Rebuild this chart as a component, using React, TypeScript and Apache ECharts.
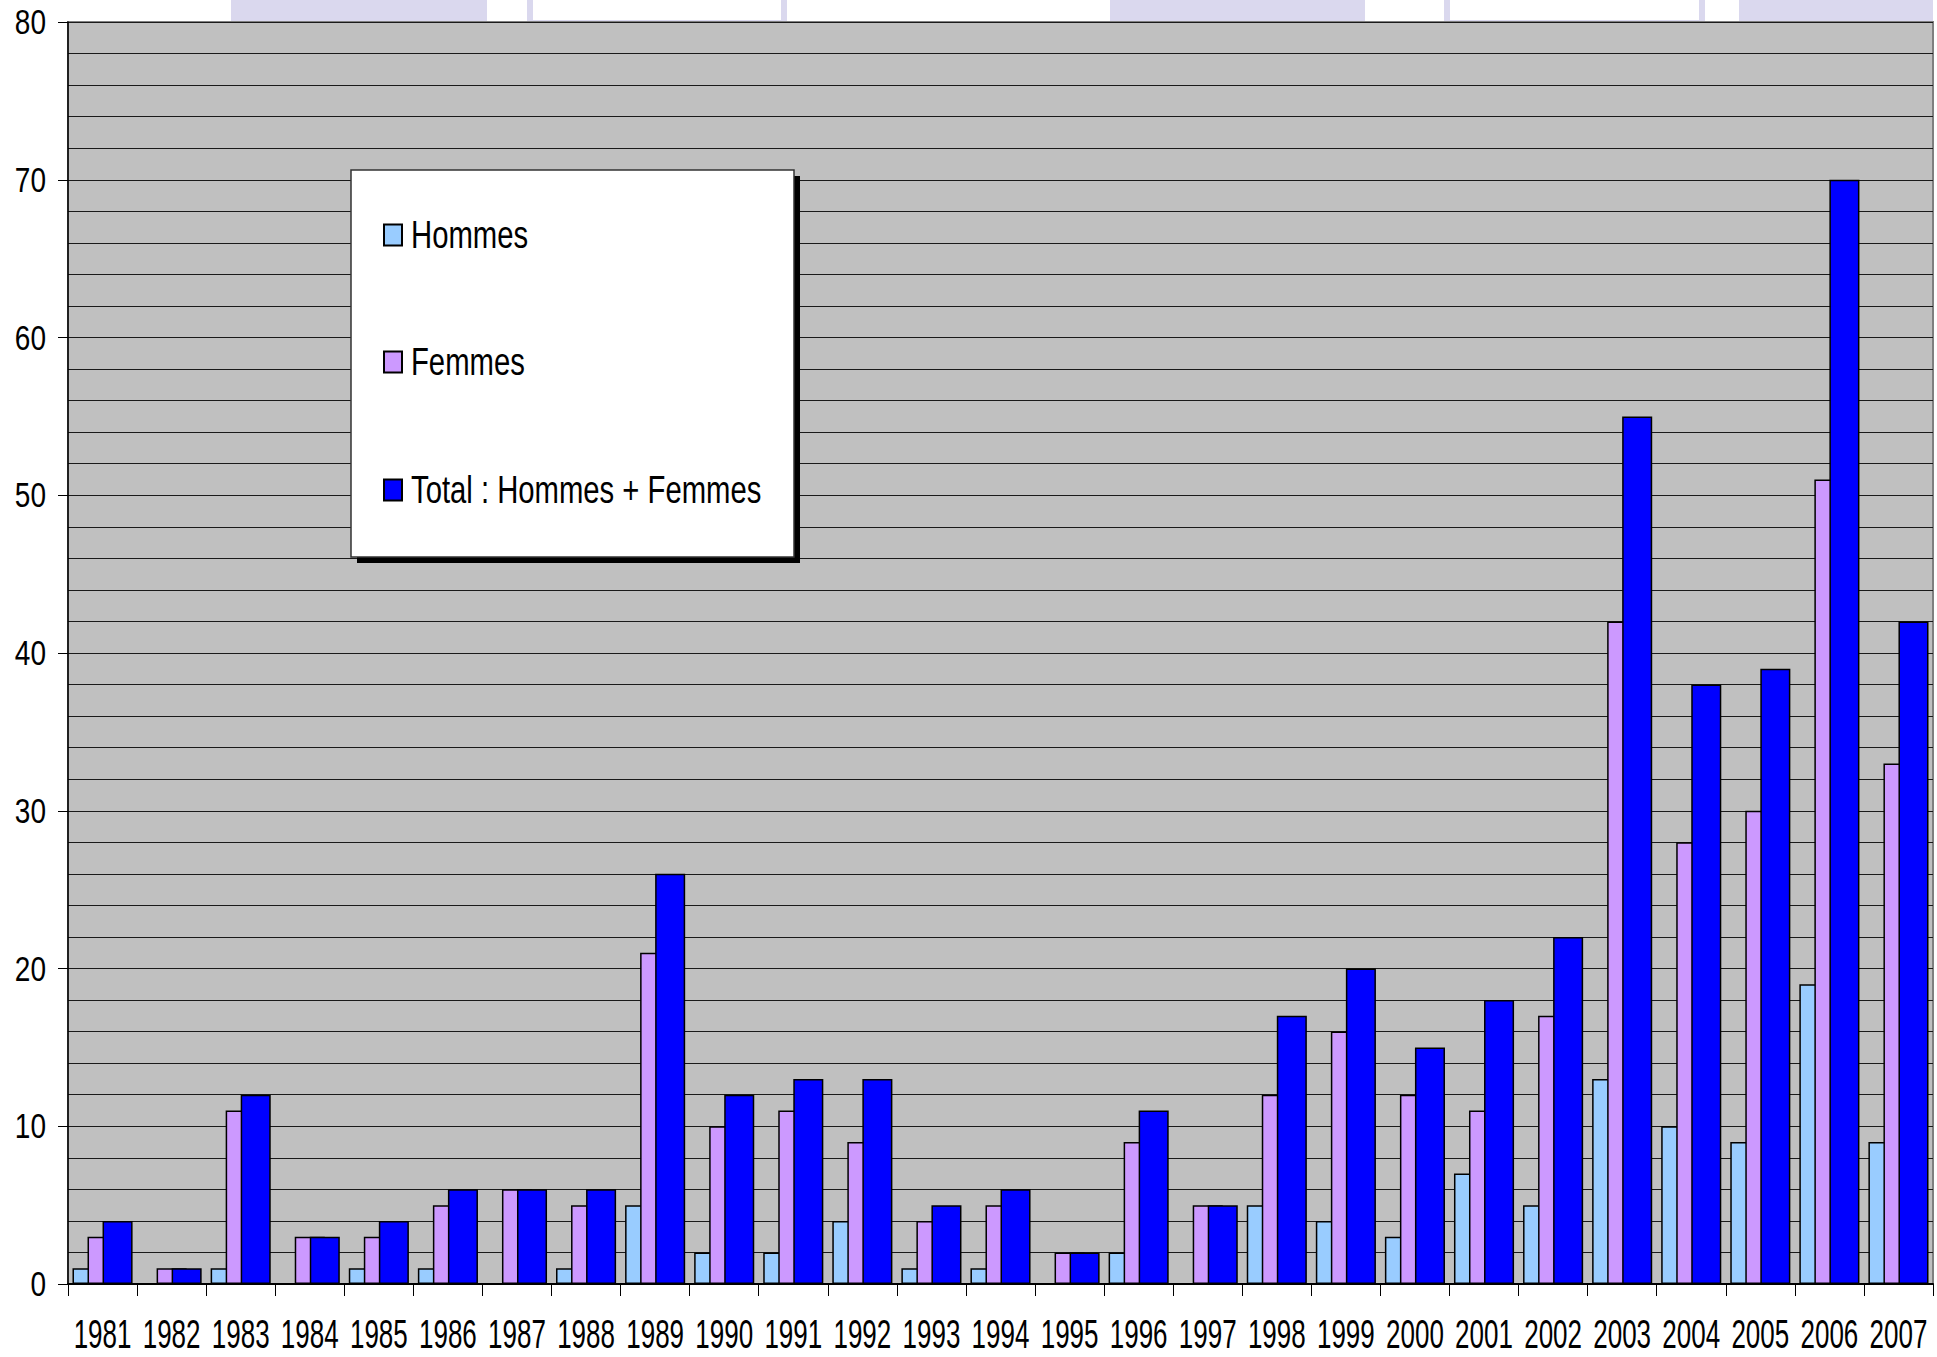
import React, { useEffect, useRef } from "react";
import * as echarts from "echarts";

const years = ["1981","1982","1983","1984","1985","1986","1987","1988","1989","1990","1991","1992","1993","1994","1995","1996","1997","1998","1999","2000","2001","2002","2003","2004","2005","2006","2007"];
const hommes = [1,0,1,0,1,1,0,1,5,2,2,4,1,1,0,2,0,5,4,3,7,5,13,10,9,19,9];
const femmes = [3,1,11,3,3,5,6,5,21,10,11,9,4,5,2,9,5,12,16,12,11,17,42,28,30,51,33];
const total = [4,1,12,3,4,6,6,6,26,12,13,13,5,6,2,11,5,17,20,15,18,22,55,38,39,70,42];
const yTicks = [0, 10, 20, 30, 40, 50, 60, 70, 80];
const seriesNames = ["Hommes", "Femmes", "Total : Hommes + Femmes"];
const seriesColors = ["#99CCFF", "#CC99FF", "#0000FF"];

const FONT = '"Liberation Sans", Arial, sans-serif';

export default function App() {
  const ref = useRef<HTMLDivElement>(null);
  useEffect(() => {
    document.body.style.margin = "0";
    const chart = echarts.init(ref.current!, null, { renderer: "svg" });
    const dataArr = [hommes, femmes, total];
    chart.setOption({
      animation: false,
      backgroundColor: "#FFFFFF",
      grid: {
        left: 68,
        right: 4,
        top: 22,
        bottom: 73,
        show: true,
        backgroundColor: "#C0C0C0",
        borderColor: "#808080",
        borderWidth: 2,
        z: 0,
      },
      xAxis: {
        type: "category",
        data: years,
        boundaryGap: true,
        axisLine: { lineStyle: { color: "#000000", width: 2 } },
        axisTick: { show: true, alignWithLabel: false, length: 12, lineStyle: { color: "#000000", width: 1 } },
        axisLabel: { show: false },
        splitLine: { show: false },
      },
      yAxis: [
        {
          type: "value",
          min: 0,
          max: 80,
          interval: 10,
          axisLine: { show: true, lineStyle: { color: "#000000", width: 1.5 } },
          axisTick: { show: true, length: 10, lineStyle: { color: "#000000" } },
          axisLabel: { show: false },
          splitLine: { show: false },
        },
        {
          type: "value",
          min: 0,
          max: 80,
          interval: 2,
          position: "left",
          axisLine: { show: false },
          axisTick: { show: false },
          axisLabel: { show: false },
          splitLine: { show: true, lineStyle: { color: "#1A1A1A", width: 1 } },
        },
      ],
      series: seriesNames.map((name, i) => ({
        name,
        type: "bar",
        yAxisIndex: 0,
        data: dataArr[i],
        barGap: "-50%",
        barCategoryGap: "13%",
        itemStyle: { color: seriesColors[i], borderColor: "#000000", borderWidth: 1.5 },
        z: 2 + i,
      })),
    });

    const deco = (x1: number, x2: number, filled: boolean) => ({
      type: "rect",
      z: -10,
      shape: { x: x1, y: -200, width: x2 - x1, height: 223 },
      style: filled
        ? { fill: "#DAD8EE", stroke: "none" }
        : { fill: "#FFFFFF", stroke: "#DAD8EE", lineWidth: 6 },
    });

    const xLabels = years.map((y) => {
      const px = chart.convertToPixel({ xAxisIndex: 0 }, y) as number;
      return {
        type: "text",
        x: px,
        y: 1334,
        scaleX: 0.65,
        z: 20,
        style: { text: y, fontSize: 40, fontFamily: FONT, fill: "#000000", align: "center", verticalAlign: "middle" },
      };
    });
    const yLabels = yTicks.map((v) => {
      const py = chart.convertToPixel({ yAxisIndex: 0 }, v) as number;
      return {
        type: "text",
        x: 46,
        y: py,
        scaleX: 0.8,
        z: 20,
        style: { text: String(v), fontSize: 35, fontFamily: FONT, fill: "#000000", align: "right", verticalAlign: "middle" },
      };
    });

    const legendX = 351, legendY = 170, legendW = 443, legendH = 387;
    const itemYs = [235, 362, 490];
    const legendItems: any[] = [];
    seriesNames.forEach((name, i) => {
      legendItems.push({
        type: "rect",
        z: 31,
        shape: { x: 384, y: itemYs[i] - 10.5, width: 18, height: 21 },
        style: { fill: seriesColors[i], stroke: "#000000", lineWidth: 2 },
      });
      legendItems.push({
        type: "text",
        x: 411,
        y: itemYs[i],
        scaleX: 0.77,
        z: 31,
        style: { text: name, fontSize: 38, fontFamily: FONT, fill: "#000000", align: "left", verticalAlign: "middle" },
      });
    });

    chart.setOption({
      graphic: [
        deco(231, 487, true),
        deco(530, 784, false),
        deco(1110, 1365, true),
        deco(1447, 1702, false),
        deco(1739, 1933, true),
        ...xLabels,
        ...yLabels,
        {
          type: "rect",
          z: 29,
          shape: { x: legendX + 6, y: legendY + 6, width: legendW, height: legendH },
          style: { fill: "#000000" },
        },
        {
          type: "rect",
          z: 30,
          shape: { x: legendX, y: legendY, width: legendW, height: legendH },
          style: { fill: "#FFFFFF", stroke: "#333333", lineWidth: 1.5 },
        },
        ...legendItems,
      ],
    });
    return () => chart.dispose();
  }, []);
  return <div ref={ref} style={{ width: 1937, height: 1357 }} />;
}
